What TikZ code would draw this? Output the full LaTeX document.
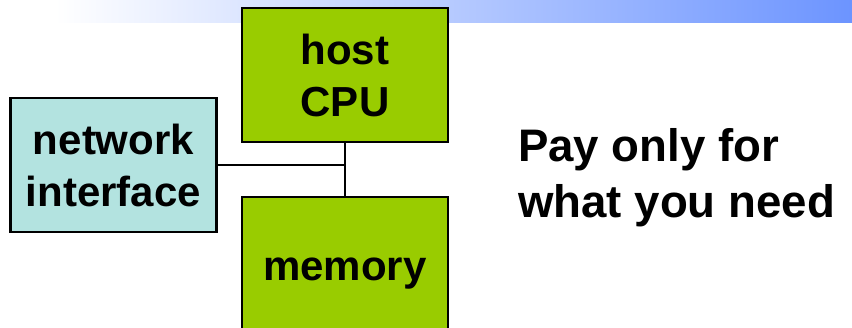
\documentclass[tikz,border=0pt]{standalone}
\usepackage{fontspec}
\setmainfont{Liberation Sans}
\definecolor{boxgreen}{HTML}{99CC00}
\definecolor{boxcyan}{HTML}{B3E3E0}
\definecolor{bandblue}{HTML}{6C94FF}
\begin{document}
\begin{tikzpicture}[x=1pt,y=-1pt,
  block/.style={draw=black,line width=2.2pt,rectangle,inner sep=0pt,
    font=\bfseries\fontsize{42}{52}\selectfont,align=center},
  wire/.style={draw=black,line width=2pt}]
\useasboundingbox (0,0) rectangle (852,328);
\clip (0,0) rectangle (852,328);
\fill[white] (0,0) rectangle (852,328);
\shade[left color=white,right color=bandblue] (55,0) rectangle (852,23);
\node[block,fill=boxgreen,minimum width=206pt,minimum height=134pt] (host) at (345,75) {host\\CPU};
\node[block,fill=boxcyan,minimum width=206pt,minimum height=134pt] (net) at (113.5,165) {network\\interface};
\node[block,fill=boxgreen,minimum width=206pt,minimum height=153pt] (memory) at (345,273.5) {memory};
\draw[wire] (host.south) -- (memory.north);
\draw[wire] (net.east) -- (net.east -| host.south);
\node[anchor=west,inner sep=0pt,align=left,font=\bfseries\fontsize{45.6}{56}\selectfont] (slogan) at (518,178.2) {Pay only for\\what you need};
\end{tikzpicture}
\end{document}
